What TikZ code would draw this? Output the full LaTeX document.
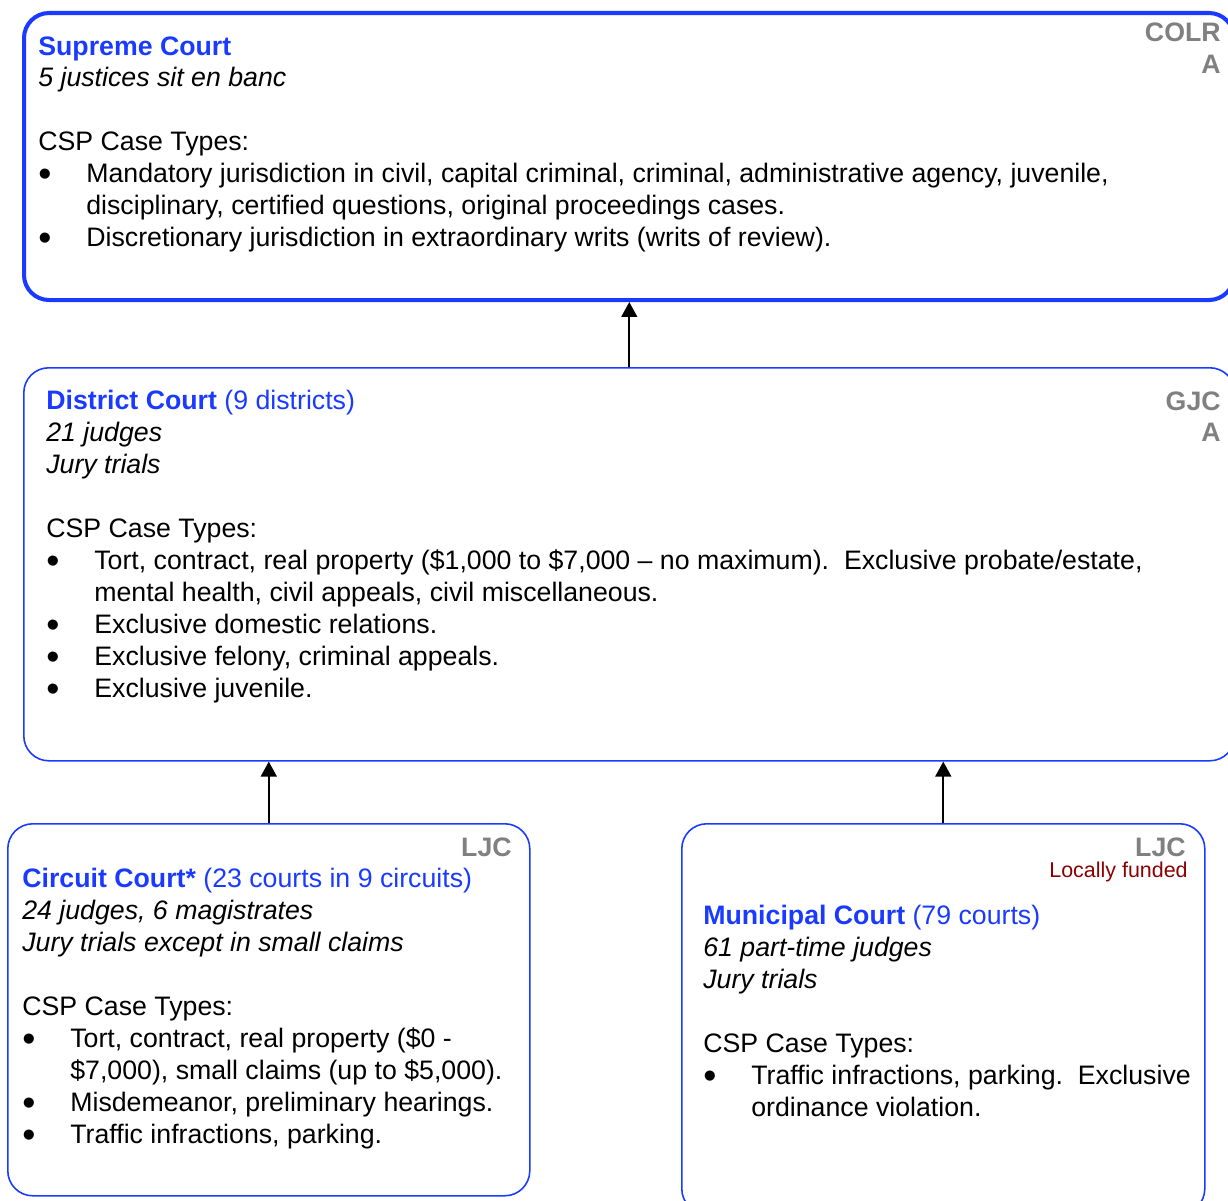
\documentclass[tikz,border=0pt]{standalone}
\usepackage{fontspec}
\setsansfont{Liberation Sans}
\usepackage{graphicx}
\usetikzlibrary{arrows.meta, positioning}
\definecolor{cblue}{HTML}{1A3BFF}
\definecolor{cgrey}{HTML}{808080}
\definecolor{cred}{HTML}{8B0000}
\newcommand{\bul}{\makebox[0.96cm][l]{\smash{\raisebox{-0.25ex}{\scalebox{1.4}{\textbullet}}}}}
\newcommand{\ind}{\hspace*{0.96cm}}
\newcommand{\ctitle}[2]{{\color{cblue}\textbf{#1}#2}}
\tikzset{
  every picture/.style={font=\sffamily\fontsize{15.2}{18.2}\selectfont},
  court/.style={draw=cblue, rounded corners=0.5cm, line width=0.9pt, anchor=north west, inner sep=0pt},
  txt/.style={anchor=north west, align=left, inner sep=0pt},
  tag/.style={anchor=north east, align=right, inner sep=0pt, text=cgrey, font=\sffamily\bfseries\fontsize{15.2}{18.2}\selectfont},
  arrow/.style={-{Triangle[length=8.5pt, width=9pt]}, line width=1.1pt},
}
\begin{document}
\begin{tikzpicture}
  \useasboundingbox (0,0) rectangle (24.56,-24.02);
  \node[court, line width=2.3pt, minimum width=24.2cm, minimum height=5.74cm] (supreme) at (0.44,-0.22) {};
  \node[court, minimum width=24.22cm, minimum height=7.86cm] (district) at (0.46,-7.34) {};
  \node[court, minimum width=10.44cm, minimum height=7.44cm] (circuit) at (0.14,-16.46) {};
  \node[court, minimum width=10.46cm, minimum height=7.8cm] (municipal) at (13.62,-16.46) {};

  \node[txt] (supremetxt) at (0.76,-0.72) {\ctitle{Supreme Court}{}\\
    \textit{5 justices sit en banc}\\ \mbox{}\\
    CSP Case Types:\\
    \bul Mandatory jurisdiction in civil, capital criminal, criminal, administrative agency, juvenile,\\
    \ind disciplinary, certified questions, original proceedings cases.\\
    \bul Discretionary jurisdiction in extraordinary writs (writs of review).};
  \node[tag] (supremetag) at (24.42,-0.46) {COLR\\A};

  \node[txt] (districttxt) at (0.92,-7.8) {\ctitle{District Court}{ (9 districts)}\\
    \textit{21 judges}\\ \textit{Jury trials}\\ \mbox{}\\
    CSP Case Types:\\
    \bul Tort, contract, real property (\$1,000 to \$7,000 – no maximum).\ \ Exclusive probate/estate,\\
    \ind mental health, civil appeals, civil miscellaneous.\\
    \bul Exclusive domestic relations.\\
    \bul Exclusive felony, criminal appeals.\\
    \bul Exclusive juvenile.};
  \node[tag] (districttag) at (24.42,-7.82) {GJC\\A};

  \node[txt] (circuittxt) at (0.44,-17.36) {\ctitle{Circuit Court*}{ (23 courts in 9 circuits)}\\
    \textit{24 judges, 6 magistrates}\\ \textit{Jury trials except in small claims}\\ \mbox{}\\
    CSP Case Types:\\
    \bul Tort, contract, real property (\$0 -\\
    \ind \$7,000), small claims (up to \$5,000).\\
    \bul Misdemeanor, preliminary hearings.\\
    \bul Traffic infractions, parking.};
  \node[tag] (circuittag) at (10.24,-16.74) {LJC};

  \node[txt] (municipaltxt) at (14.06,-18.1) {\ctitle{Municipal Court}{ (79 courts)}\\
    \textit{61 part-time judges}\\ \textit{Jury trials}\\ \mbox{}\\
    CSP Case Types:\\
    \bul Traffic infractions, parking.\ \ Exclusive\\
    \ind ordinance violation.};
  \node[tag] (municipaltag) at (23.72,-16.74) {LJC};
  \node[anchor=north east, inner sep=0pt, text=cred, font=\sffamily\fontsize{12.2}{14}\selectfont] (funded) at (23.76,-17.24) {Locally funded};

  \foreach \a/\b in {circuit/district, municipal/district, district/supreme}
    \draw[arrow] (\a.north) -- (\a.north |- \b.south);
\end{tikzpicture}
\end{document}
